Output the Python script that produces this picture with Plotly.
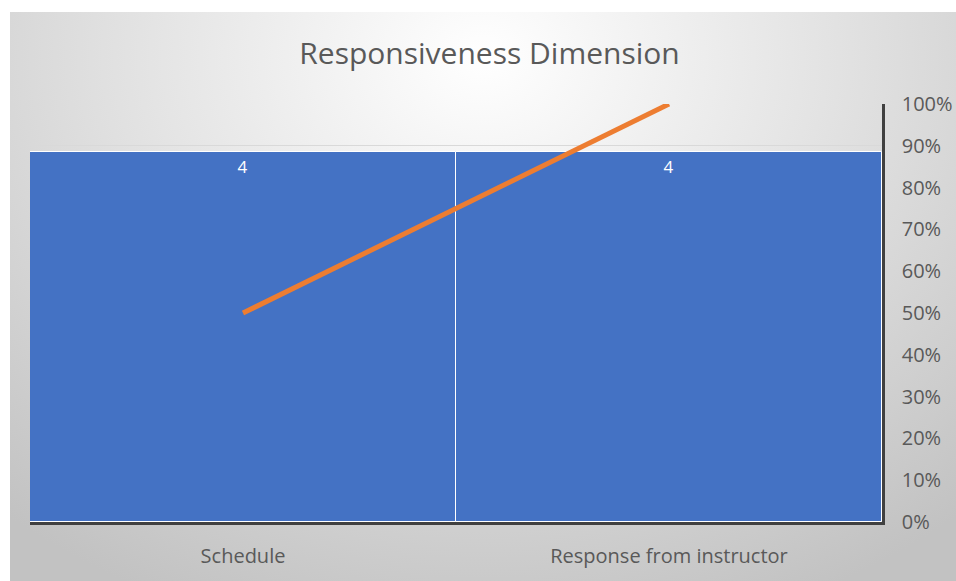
import base64
import plotly.graph_objects as go

# Pareto data: counts per item and cumulative share
categories = ["Schedule", "Response from instructor"]
counts = [4, 4]
cumulative_pct = [0.5, 1.0]
pct_ticks = [i / 10 for i in range(11)]

W, H = 956, 581
M_L, M_R, M_T, M_B = 30, 74, 104, 59
plot_w = W - M_L - M_R
plot_h = H - M_T - M_B

# soft radial grey backdrop for the chart area
svg = """<svg xmlns='http://www.w3.org/2000/svg' width='946' height='569' preserveAspectRatio='none' viewBox='0 0 946 569'>
<defs><radialGradient id='g' cx='0.5' cy='0.08' r='0.78' gradientUnits='objectBoundingBox' gradientTransform='translate(0.5,0.08) scale(1,1.35) translate(-0.5,-0.08)'>
<stop offset='0' stop-color='#ffffff'/><stop offset='0.45' stop-color='#e4e4e4'/><stop offset='1' stop-color='#c2c2c2'/></radialGradient></defs>
<rect width='946' height='569' fill='url(#g)'/></svg>"""
bg_src = "data:image/svg+xml;base64," + base64.b64encode(svg.encode()).decode()

fig = go.Figure()
fig.add_trace(go.Bar(
    x=categories, y=counts, yaxis="y",
    marker=dict(color="#4472C4", line=dict(color="#ffffff", width=1)),
    texttemplate="%{y}", textposition="inside", insidetextanchor="end",
    textangle=0, textfont=dict(color="#ffffff", size=17, family="Open Sans"),
    showlegend=False, hoverinfo="x+y",
))
fig.add_trace(go.Scatter(
    x=categories, y=cumulative_pct, yaxis="y2", mode="lines",
    line=dict(color="#ED7D31", width=5), showlegend=False,
))

fig.update_layout(
    width=W, height=H,
    margin=dict(l=M_L, r=M_R, t=M_T, b=M_B, autoexpand=False),
    paper_bgcolor="#ffffff", plot_bgcolor="rgba(0,0,0,0)",
    bargap=0,
    title=dict(text="Responsiveness Dimension", x=489.5 / W, xanchor="center",
               y=1 - 53 / H, yanchor="middle", xref="container", yref="container",
               font=dict(family="Open Sans", size=30, color="#595959")),
    font=dict(family="Open Sans", color="#595959"),
    xaxis=dict(type="category", range=[-0.5, 1.5], showline=True, linecolor="#404040",
               linewidth=2.5, ticks="", showgrid=False, ticklabelstandoff=14,
               automargin=False, tickfont=dict(size=20, color="#595959")),
    yaxis=dict(range=[0, 4.52], visible=False, showgrid=False, zeroline=False,
               automargin=False),
    yaxis2=dict(overlaying="y", side="right", range=[0, 1], tickvals=pct_ticks,
                tickformat=".0%", showline=True, linecolor="#404040", linewidth=2.5,
                showgrid=True, gridcolor="#d9d9d9", gridwidth=1, zeroline=False,
                ticks="", ticklabelstandoff=13, automargin=False,
                tickfont=dict(size=20, color="#595959")),
    images=[dict(source=bg_src, xref="paper", yref="paper",
                 x=(10 - M_L) / plot_w, y=(H - M_B - 12) / plot_h,
                 sizex=(W - 10) / plot_w, sizey=(H - 12) / plot_h,
                 xanchor="left", yanchor="top", sizing="stretch", layer="below")],
)

fig.write_html("out.html")
